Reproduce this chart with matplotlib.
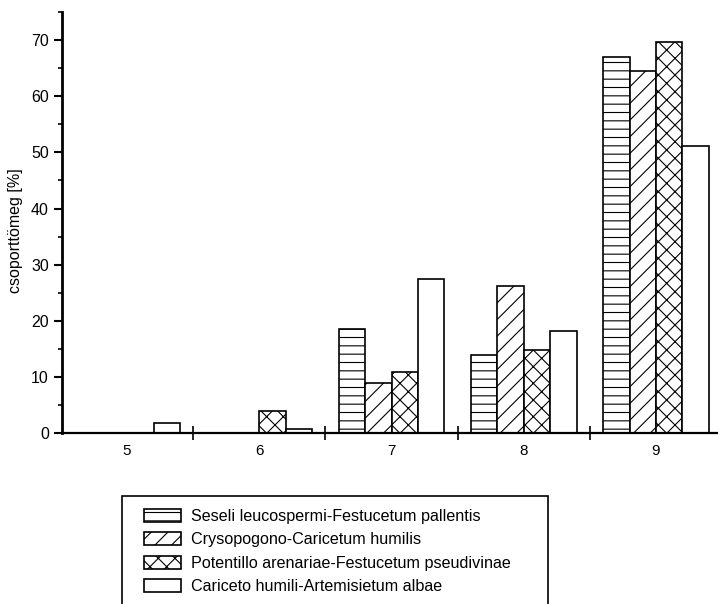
import numpy as np
import matplotlib
matplotlib.use("Agg")
import matplotlib.pyplot as plt
from matplotlib.patches import Rectangle
from matplotlib.ticker import MultipleLocator, FixedLocator, NullFormatter

plt.rcParams['font.family'] = ['Liberation Sans', 'DejaVu Sans']
plt.rcParams['hatch.linewidth'] = 0.8

categories = ["5", "6", "7", "8", "9"]
seseli = [0, 0, 18.5, 13.9, 67.0]
crysopogono = [0, 0, 9.0, 26.2, 64.5]
potentillo = [0, 4.0, 10.9, 14.8, 69.7]
cariceto = [1.8, 0.7, 27.4, 18.1, 51.2]

series = [
    ("Seseli leucospermi-Festucetum pallentis", seseli, "--"),
    ("Crysopogono-Caricetum humilis", crysopogono, "//"),
    ("Potentillo arenariae-Festucetum pseudivinae", potentillo, "xx"),
    ("Cariceto humili-Artemisietum albae", cariceto, ""),
]

fig = plt.figure(figsize=(7.18, 6.04), dpi=100)
ax = fig.add_axes([0.0864, 0.283, 0.9136, 0.697])

x = np.arange(5, 10)
w = 0.2
for i, (name, vals, hatch) in enumerate(series):
    ax.bar(x + (i - 1.5) * w, vals, w, color="white", edgecolor="black",
           linewidth=1.2, hatch=hatch, label=name)

ax.set_xlim(4.508, 9.469)
ax.set_ylim(0, 75)

for s in ["top", "right"]:
    ax.spines[s].set_visible(False)
ax.spines["left"].set_linewidth(2)
ax.spines["bottom"].set_linewidth(1.6)

ax.yaxis.set_major_locator(MultipleLocator(10))
ax.yaxis.set_minor_locator(MultipleLocator(5))
ax.tick_params(axis="y", which="major", direction="out", length=6, width=1.5, labelsize=11.5)
ax.tick_params(axis="y", which="minor", direction="out", length=3, width=1.2)

ax.xaxis.set_major_locator(FixedLocator([5.5, 6.5, 7.5, 8.5]))
ax.xaxis.set_major_formatter(NullFormatter())
ax.xaxis.set_minor_locator(FixedLocator(list(x)))
ax.set_xticklabels(categories, minor=True)
ax.tick_params(axis="x", which="major", direction="inout", length=10, width=1.2)
ax.tick_params(axis="x", which="minor", length=0, labelsize=11, pad=8)

ax.set_ylabel("csoporttömeg [%]", fontsize=11.5)
ax.yaxis.set_label_coords(-0.06, 0.48)

leg = fig.legend(loc="upper left", bbox_to_anchor=(0.2006, 0.157), fontsize=11.65,
                 frameon=False, borderpad=0, borderaxespad=0,
                 handlelength=2.3, handleheight=0.86, handletextpad=0.6,
                 labelspacing=0.5)

# legend frame (bottom edge runs off the figure, as in the original)
fig.patches.append(Rectangle((122 / 718, -0.02), (548 - 122) / 718, 0.02 + 1 - 496 / 604,
                             transform=fig.transFigure, fill=False,
                             edgecolor="black", linewidth=1.2))

fig.savefig("out.png", dpi=100)
